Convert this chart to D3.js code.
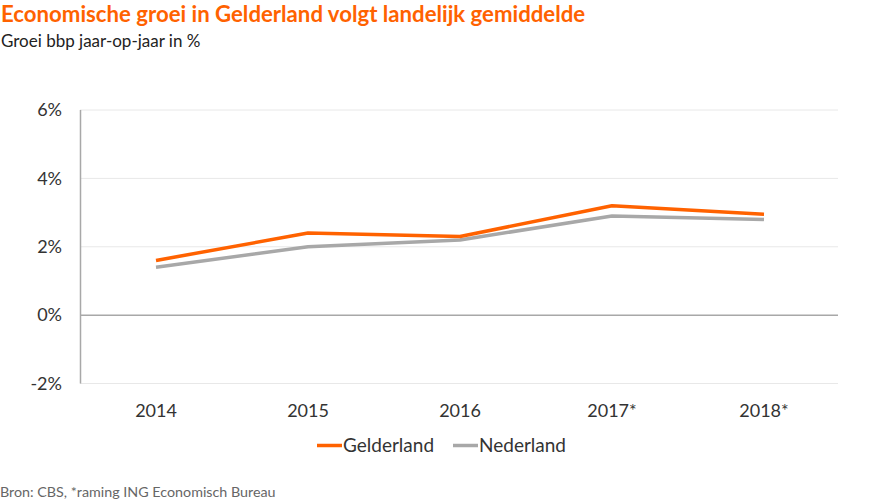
<!DOCTYPE html>
<html><head><meta charset="utf-8">
<script src="https://cdn.jsdelivr.net/npm/d3@7"></script>
<style>
body{margin:0;background:#fff;}
svg text{font-family:"Lato","Open Sans",sans-serif;}
</style></head>
<body><svg id="c" width="870" height="504"></svg>
<script>
const categories = ["2014","2015","2016","2017*","2018*"];
const gelderland = [1.6, 2.4, 2.3, 3.2, 2.95];
const nederland = [1.4, 2.0, 2.2, 2.9, 2.8];
const yTicks = [-2, 0, 2, 4, 6];
const seriesNames = ["Gelderland","Nederland"];
const seriesColors = ["#FF6200","#A8A8A8"];

const svg = d3.select("#c");
const x = d3.scaleBand().domain(categories).range([80, 840]);
const y = d3.scaleLinear().domain([-2, 6]).range([383.5, 110]);

svg.append("text").attr("x",1).attr("y",22).attr("fill","#FF6200")
  .attr("font-size",22.2).attr("font-weight","bold").text("Economische groei in Gelderland volgt landelijk gemiddelde");
svg.append("text").attr("x",1).attr("y",47).attr("fill","#222")
  .attr("font-size",17).text("Groei bbp jaar-op-jaar in %");

// gridlines
svg.append("g").selectAll("line").data(yTicks.filter(d=>d!==0)).join("line")
  .attr("x1",80).attr("x2",838).attr("y1",d=>y(d)).attr("y2",d=>y(d))
  .attr("stroke","#e8e8e8").attr("stroke-width",1);
// zero line
svg.append("line").attr("x1",80).attr("x2",838).attr("y1",y(0)).attr("y2",y(0))
  .attr("stroke","#a8a8a8").attr("stroke-width",1.5);
// y axis line
svg.append("line").attr("x1",80.5).attr("x2",80.5).attr("y1",y(6)).attr("y2",y(-2))
  .attr("stroke","#a8a8a8").attr("stroke-width",1.5);

// y tick labels
const yAxis = d3.axisLeft(y).tickValues(yTicks).tickSize(0).tickPadding(18).tickFormat(d=>d+"%");
const ga = svg.append("g").attr("transform","translate(80,0)").call(yAxis);
ga.select(".domain").remove();
ga.selectAll("text").attr("font-size",18).attr("fill","#333").style("font-family","Lato, sans-serif");

// x tick labels
const xAxis = d3.axisBottom(x).tickSize(0).tickPadding(0);
const gx = svg.append("g").attr("transform","translate(0,417)").call(xAxis);
gx.select(".domain").remove();
gx.selectAll("text").attr("font-size",18).attr("fill","#333").attr("dy","0").style("font-family","Lato, sans-serif");

const line = d3.line().x((d,i)=>x(categories[i])+x.bandwidth()/2).y(d=>y(d));
[nederland, gelderland].forEach((s,k)=>{
  svg.append("path").attr("d",line(s)).attr("fill","none")
    .attr("stroke", k===0?seriesColors[1]:seriesColors[0]).attr("stroke-width",3.5)
    .attr("stroke-linejoin","round");
});

// legend
const legX = [317, 453];
seriesNames.forEach((n,i)=>{
  svg.append("line").attr("x1",legX[i]).attr("x2",legX[i]+25).attr("y1",445.5).attr("y2",445.5)
    .attr("stroke",seriesColors[i]).attr("stroke-width",3.5);
  svg.append("text").attr("x",legX[i]+26).attr("y",452).attr("font-size",19).attr("fill","#333").text(n);
});

svg.append("text").attr("x",0).attr("y",497).attr("font-size",14.3).attr("fill","#666")
  .text("Bron: CBS, *raming ING Economisch Bureau");
</script></body></html>
